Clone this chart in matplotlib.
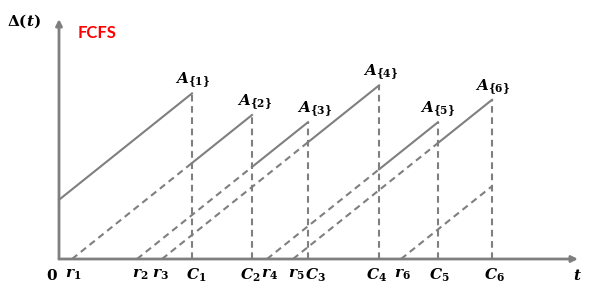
import matplotlib
matplotlib.use("Agg")
import matplotlib.pyplot as plt

# ---- data (time units relative to origin, age in same units) ----
delta0 = 74                                  # initial age at t = 0
r = [13, 78, 103, 208, 234, 342]             # arrival (generation) times r_i
C = [133, 193, 249, 320, 379, 433]           # completion times C_i
r_labels = [r"$r_1$", r"$r_2$", r"$r_3$", r"$r_4$", r"$r_5$", r"$r_6$"]
C_labels = [r"$C_1$", r"$C_2$", r"$C_3$", r"$C_4$", r"$C_5$", r"$C_6$"]
A_labels = [r"$A_{\{1\}}$", r"$A_{\{2\}}$", r"$A_{\{3\}}$",
            r"$A_{\{4\}}$", r"$A_{\{5\}}$", r"$A_{\{6\}}$"]
t_end = 519
y_end = 300
title_text = "FCFS"

# ---- style ----
plt.rcParams["mathtext.fontset"] = "custom"
plt.rcParams["mathtext.it"] = "DejaVu Serif:italic:bold"
plt.rcParams["mathtext.rm"] = "DejaVu Serif:bold"
plt.rcParams["mathtext.bf"] = "DejaVu Serif:bold"

GRAY = "#7f7f7f"
X0, Y0, K = 59, 259, 0.8
W, H = 602, 301

fig = plt.figure(figsize=(W / 100, H / 100), dpi=100)
ax = fig.add_axes([0, 0, 1, 1])
ax.set_xlim(-X0, W - X0)
ax.set_ylim((Y0 - H) / K, Y0 / K)
ax.axis("off")

# axes with arrows
ax.annotate("", xy=(t_end, 0), xytext=(0, 0),
            arrowprops=dict(arrowstyle="-|>", color=GRAY, lw=2.0,
                            mutation_scale=9, shrinkA=0, shrinkB=0))
ax.annotate("", xy=(0, y_end), xytext=(0, 0),
            arrowprops=dict(arrowstyle="-|>", color=GRAY, lw=2.0,
                            mutation_scale=9, shrinkA=0, shrinkB=0))

dash_kw = dict(color=GRAY, lw=1.5, ls=(0, (3.2, 2.2)))
solid_kw = dict(color=GRAY, lw=1.5)

# peaks
peaks = [delta0 + C[0]] + [C[i] - r[i - 1] for i in range(1, len(C))]

# solid sawtooth
ax.plot([0, C[0]], [delta0, delta0 + C[0]], **solid_kw)
for i in range(len(C) - 1):
    ax.plot([C[i], C[i + 1]], [C[i] - r[i], C[i + 1] - r[i]], **solid_kw)

# dashed growth lines from r_i to C_i
for i in range(len(r)):
    ax.plot([r[i], C[i]], [0, C[i] - r[i]], **dash_kw)

# vertical dashed at C_i
for i in range(len(C)):
    ax.plot([C[i], C[i]], [0, peaks[i]], **dash_kw)

# labels (small horizontal nudges as in the reference)
lab_y = -20
fs = 11
r_dx = [1, 3, -2, 2, 3, 1]
C_dx = [4, -2, 7, -2, 1, 2]
ax.text(-7, lab_y, r"$\mathrm{0}$", fontsize=fs, ha="center", va="center")
for x, lab, dx in zip(r, r_labels, r_dx):
    ax.text(x + dx, lab_y, lab, fontsize=fs, ha="center", va="center")
for x, lab, dx in zip(C, C_labels, C_dx):
    ax.text(x + dx, lab_y, lab, fontsize=fs, ha="center", va="center")
ax.text(t_end - 1, lab_y, r"$t$", fontsize=fs, ha="center", va="center")

label_dx = [1, 3, 7, 2, 0, 1]
for x, p, lab, dx in zip(C, peaks, A_labels, label_dx):
    ax.text(x + dx, p + 4, lab, fontsize=fs, ha="center", va="bottom")

ax.text(-35, 297, r"$\Delta(t)$", fontsize=fs, ha="center", va="center")
ax.text(38, 282, title_text, family="Lato", weight="bold", color="#ff0000",
        fontsize=12, ha="center", va="center")

fig.savefig("out.png", dpi=100)
